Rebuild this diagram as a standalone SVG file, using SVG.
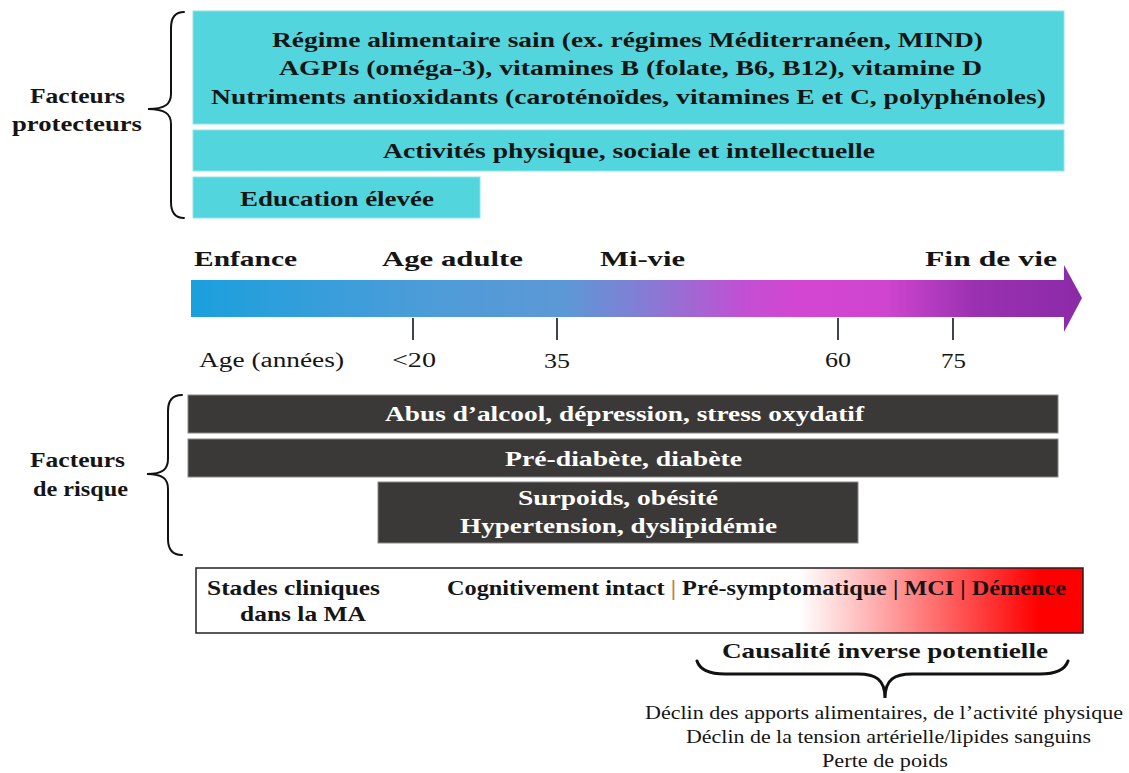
<svg xmlns="http://www.w3.org/2000/svg" width="1129" height="773" viewBox="0 0 1129 773">
<defs>
<style>
text{font-family:"Liberation Serif","Times New Roman",serif;fill:#151515}
.b{font-weight:bold}
.lbl{font-size:21px}
.box{font-size:21px}
.tl{font-size:22px}
.tk{font-size:20px}
.w{fill:#ffffff}
.sm{font-size:18px}
.cy{fill:#53D5DD;stroke:#8fe3e8;stroke-width:1}
.dk{fill:#3B3937;stroke:#8a8886;stroke-width:1}
.brace{fill:none;stroke:#111;stroke-width:2;stroke-linecap:round}
.tick{stroke:#3d4452;stroke-width:2}
</style>
<linearGradient id="tlg" gradientUnits="userSpaceOnUse" x1="191" y1="0" x2="1082" y2="0">
<stop offset="0" stop-color="#1AA0DD"/>
<stop offset="0.26" stop-color="#4C9CD8"/>
<stop offset="0.42" stop-color="#5C98D6"/>
<stop offset="0.52" stop-color="#8A78D4"/>
<stop offset="0.62" stop-color="#C24FD3"/>
<stop offset="0.68" stop-color="#D346D2"/>
<stop offset="0.78" stop-color="#CF45CF"/>
<stop offset="0.88" stop-color="#9A31B0"/>
<stop offset="1" stop-color="#8B2AA8"/>
</linearGradient>
<linearGradient id="rg" gradientUnits="userSpaceOnUse" x1="196" y1="0" x2="1083" y2="0">
<stop offset="0" stop-color="#ffffff"/>
<stop offset="0.68" stop-color="#ffffff"/>
<stop offset="0.95" stop-color="#ff0000"/>
<stop offset="1" stop-color="#ff0000"/>
</linearGradient>
</defs>
<rect width="1129" height="773" fill="#ffffff"/>

<g id="label-protecteurs">
<text class="b lbl" x="30" y="103" textLength="95" lengthAdjust="spacingAndGlyphs">Facteurs</text>
<text class="b lbl" x="12" y="131" textLength="130" lengthAdjust="spacingAndGlyphs">protecteurs</text>
</g>

<g id="prot-diet">
<rect class="cy" x="193" y="11" width="871" height="113"/>
<text class="b box" x="272" y="47" textLength="711" lengthAdjust="spacingAndGlyphs">Régime alimentaire sain (ex. régimes Méditerranéen, MIND)</text>
<text class="b box" x="279" y="75" textLength="703" lengthAdjust="spacingAndGlyphs">AGPIs (oméga-3), vitamines B (folate, B6, B12), vitamine D</text>
<text class="b box" x="211" y="104" textLength="835" lengthAdjust="spacingAndGlyphs">Nutriments antioxidants (caroténoïdes, vitamines E et C, polyphénoles)</text>
</g>
<g id="prot-activity">
<rect class="cy" x="193" y="130" width="871" height="41"/>
<text class="b box" x="383" y="158" textLength="492" lengthAdjust="spacingAndGlyphs">Activités physique, sociale et intellectuelle</text>
</g>
<g id="prot-education">
<rect class="cy" x="193" y="177" width="287" height="41"/>
<text class="b box" x="240" y="206" textLength="194" lengthAdjust="spacingAndGlyphs">Education élevée</text>
</g>

<g id="timeline">
<path d="M191,280 L1064,280 L1064,265 L1082,298 L1064,332 L1064,317 L191,317 Z" fill="url(#tlg)"/>
<text class="b tl" x="194" y="266" textLength="103" lengthAdjust="spacingAndGlyphs">Enfance</text>
<text class="b tl" x="382" y="266" textLength="141" lengthAdjust="spacingAndGlyphs">Age adulte</text>
<text class="b tl" x="600" y="266" textLength="85" lengthAdjust="spacingAndGlyphs">Mi-vie</text>
<text class="b tl" x="925" y="266" textLength="132" lengthAdjust="spacingAndGlyphs">Fin de vie</text>
<text class="tk" x="199" y="367" textLength="145" lengthAdjust="spacingAndGlyphs">Age (années)</text>
<text class="tk" x="392" y="367" textLength="44" lengthAdjust="spacingAndGlyphs">&lt;20</text>
<text class="tk" x="544" y="368" textLength="26" lengthAdjust="spacingAndGlyphs">35</text>
<text class="tk" x="825" y="367" textLength="26" lengthAdjust="spacingAndGlyphs">60</text>
<text class="tk" x="941" y="368" textLength="25" lengthAdjust="spacingAndGlyphs">75</text>
</g>

<g id="label-risque">
<text class="b lbl" x="30" y="467" textLength="95" lengthAdjust="spacingAndGlyphs">Facteurs</text>
<text class="b lbl" x="33" y="496" textLength="95" lengthAdjust="spacingAndGlyphs">de risque</text>
</g>

<g id="risk-alcohol">
<rect class="dk" x="188" y="395" width="870" height="38"/>
<text class="b box w" x="385" y="421" textLength="479" lengthAdjust="spacingAndGlyphs">Abus d’alcool, dépression, stress oxydatif</text>
</g>
<g id="risk-diabetes">
<rect class="dk" x="188" y="439" width="870" height="38"/>
<text class="b box w" x="505" y="466" textLength="237" lengthAdjust="spacingAndGlyphs">Pré-diabète, diabète</text>
</g>
<g id="risk-obesity">
<rect class="dk" x="378" y="482" width="480" height="61"/>
<text class="b box w" x="518" y="505" textLength="200" lengthAdjust="spacingAndGlyphs">Surpoids, obésité</text>
<text class="b box w" x="460" y="533" textLength="317" lengthAdjust="spacingAndGlyphs">Hypertension, dyslipidémie</text>
</g>

<g id="stages">
<rect x="196" y="568" width="887" height="65" fill="url(#rg)" stroke="#222" stroke-width="1.5"/>
<text class="b lbl" x="207" y="595" textLength="173" lengthAdjust="spacingAndGlyphs">Stades cliniques</text>
<text class="b lbl" x="240" y="621" textLength="126" lengthAdjust="spacingAndGlyphs">dans la MA</text>
<text class="b lbl" x="447" y="595" textLength="619" lengthAdjust="spacingAndGlyphs">Cognitivement intact <tspan fill="#b8823e">|</tspan> Pré-symptomatique | MCI | Démence</text>
</g>

<g id="reverse-causality">
<text class="b tl" x="722" y="658" textLength="326" lengthAdjust="spacingAndGlyphs">Causalité inverse potentielle</text>
<text class="sm" x="645" y="719" textLength="478" lengthAdjust="spacingAndGlyphs">Déclin des apports alimentaires, de l’activité physique</text>
<text class="sm" x="686" y="743" textLength="405" lengthAdjust="spacingAndGlyphs">Déclin de la tension artérielle/lipides sanguins</text>
<text class="sm" x="822" y="767" textLength="126" lengthAdjust="spacingAndGlyphs">Perte de poids</text>
</g>

<g id="connectors">
<path class="brace" d="M184,12 C175,12 171,17 171,28 L171,94 C171,104 165,109 148,109 C165,109 171,114 171,124 L171,202 C171,213 175,218 184,218"/>
<path class="brace" d="M182,395 C173,395 168,400 168,411 L168,459 C168,469 163,474 147,474 C163,474 168,479 168,489 L168,539 C168,550 173,555 182,555"/>
<path class="brace" style="stroke-width:3" d="M697,661 C700,670 709,674 725,674 L858,674 C875,674 885,679 885,698 C885,679 895,674 912,674 L1040,674 C1056,674 1065,670 1068,661"/>
<line class="tick" x1="413" y1="318" x2="413" y2="340"/>
<line class="tick" x1="557" y1="318" x2="557" y2="340"/>
<line class="tick" x1="838" y1="318" x2="838" y2="340"/>
<line class="tick" x1="953" y1="318" x2="953" y2="340"/>
</g>
</svg>
